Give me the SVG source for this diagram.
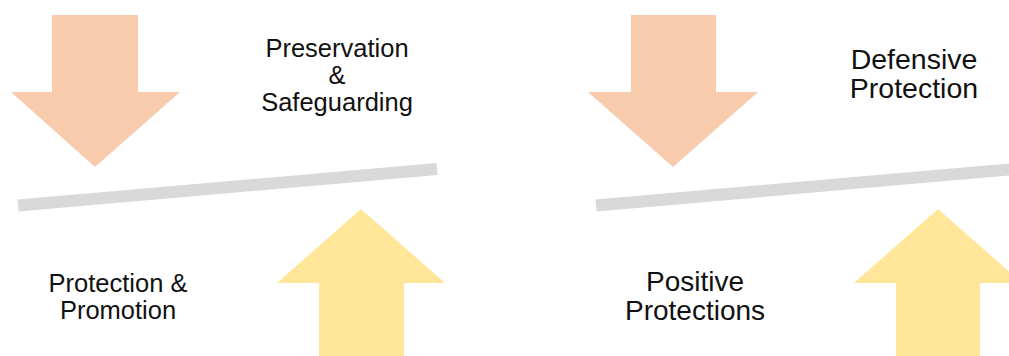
<svg xmlns="http://www.w3.org/2000/svg" width="1009" height="356" viewBox="0 0 1009 356">
<style>
.down{fill:#F8CBAD}
.up{fill:#FFE699}
.bar{stroke:#D9D9D9;stroke-width:12;fill:none}
.lbl{font-family:"Liberation Sans",Arial,sans-serif;fill:#111;text-anchor:middle}
</style>
<rect width="1009" height="356" fill="#fff"/>
<g id="connectors">
<line class="bar" x1="18" y1="205.5" x2="437" y2="169"/>
<line class="bar" x1="596" y1="205.5" x2="1015" y2="169"/>
</g>
<g id="left-down-arrow"><polygon class="down" points="52,15 138,15 138,92 180,92 95,167 11,92 52,92"/></g>
<g id="left-up-arrow"><polygon class="up" points="361,209 445,283 404,283 404,356 319,356 319,283 277,283"/></g>
<g id="right-down-arrow"><polygon class="down" points="631,15 716,15 716,92 758,92 673,167 588,92 631,92"/></g>
<g id="right-up-arrow"><polygon class="up" points="938,209 1022,283 980,283 980,356 896,356 896,283 854,283"/></g>
<g id="preservation-label"><text class="lbl" font-size="25.5"><tspan x="337" y="56.5">Preservation</tspan><tspan x="337" y="83.5">&amp;</tspan><tspan x="337" y="110.5">Safeguarding</tspan></text></g>
<g id="protection-promotion-label"><text class="lbl" font-size="25.5"><tspan x="118" y="291.5">Protection &amp;</tspan><tspan x="118" y="319">Promotion</tspan></text></g>
<g id="defensive-label"><text class="lbl" font-size="28.5"><tspan x="914" y="69">Defensive</tspan><tspan x="914" y="98">Protection</tspan></text></g>
<g id="positive-label"><text class="lbl" font-size="28"><tspan x="695" y="291">Positive</tspan><tspan x="695" y="320">Protections</tspan></text></g>
</svg>
